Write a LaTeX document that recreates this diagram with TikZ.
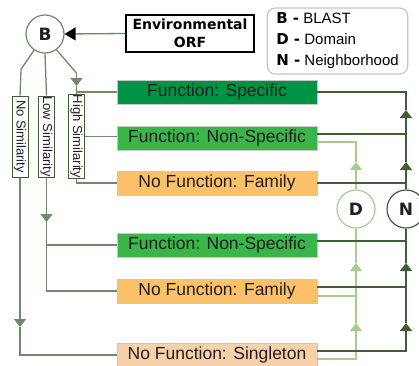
\documentclass[tikz,border=0pt]{standalone}
\usepackage{fontspec}
\setmainfont{Liberation Sans}
\newfontfamily\blackfont{DejaVu Sans}
\usetikzlibrary{arrows.meta, positioning, calc}

\definecolor{specgreen}{RGB}{0,146,69}
\definecolor{nsgreen}{RGB}{57,181,74}
\definecolor{famorange}{RGB}{250,193,104}
\definecolor{singlepeach}{RGB}{248,208,170}
\definecolor{blastline}{RGB}{112,137,104}
\definecolor{nbhline}{RGB}{62,94,52}
\definecolor{domline}{RGB}{165,205,140}
\definecolor{boxgray}{RGB}{200,200,200}
\definecolor{keygray}{RGB}{195,198,205}
\definecolor{txtdark}{RGB}{35,31,32}

\begin{document}
\begin{tikzpicture}[x=1pt, y=-1pt,
    cat/.style={rectangle, draw=boxgray, line width=1pt, outer sep=0pt, minimum width=200pt, minimum height=24pt, inner sep=0pt, text height=12.5pt, text depth=3.5pt, text=txtdark, font=\fontsize{17.5}{20}\selectfont},
    simbox/.style={rectangle, draw=nbhline, fill=white, line width=1pt, minimum width=81pt, minimum height=16pt, inner sep=0pt, rotate=-90, text=txtdark, font=\fontsize{13}{14}\selectfont},
    tool/.style={circle, draw, fill=white, line width=1.2pt, minimum size=38pt, inner sep=0pt, text=txtdark, font=\blackfont\bfseries\fontsize{17}{18}\selectfont},
    bline/.style={blastline, line width=1.3pt},
    nline/.style={nbhline, line width=1.3pt},
    dline/.style={domline, line width=1.3pt},
    flow/.style={-{Triangle[length=8pt, width=12pt]}}
]
\useasboundingbox (0,0) rectangle (419,365);
\fill[white] (0,0) rectangle (419,365);
\clip (0,0) rectangle (419,365);

% Nodes
\node[tool, draw=blastline] (blast) at (45,34) {B};
\node[rectangle, draw=black, fill=white, line width=1.5pt, minimum width=128pt, minimum height=37pt, inner sep=0pt, align=center, font=\blackfont\bfseries\fontsize{14}{18}\selectfont] (orf) at (190,33.5) {Environmental\\ORF};
\node[rectangle, draw=keygray, line width=1.2pt, rounded corners=8pt, minimum height=66pt, inner xsep=9pt, align=left, font=\fontsize{15}{21}\selectfont] (key) at (337.5,41)
    {{\blackfont\bfseries B -} BLAST\\{\blackfont\bfseries D -} Domain\\{\blackfont\bfseries N -} Neighborhood};

\node[cat, fill=specgreen] (spec) at (217,92) {Function: Specific};
\node[cat, fill=nsgreen, below=22pt of spec] (ns1) {Function: Non-Specific};
\node[cat, fill=famorange, below=21pt of ns1] (fam1) {No Function: Family};
\node[cat, fill=nsgreen, below=38pt of fam1] (ns2) {Function: Non-Specific};
\node[cat, fill=famorange, below=22pt of ns2] (fam2) {No Function: Family};
\node[cat, fill=singlepeach, below=40pt of fam2] (single) {No Function: Singleton};

\node[simbox] (nosim) at (20,136.5) {No Similarity};
\node[simbox] (lowsim) at (46.5,136.5) {Low Similarity};
\node[simbox] (highsim) at (76.5,136.5) {High Similarity};

\node[tool, draw=domline] (dom) at (356,209) {D};
\node[tool, draw=nbhline] (nbh) at (406,209) {N};

\coordinate (hiknee) at (76.5,73);
\coordinate (hitip) at (76.5,86);
\coordinate (lowtip) at (46.5,222);
\coordinate (notip) at (20,327);
\coordinate (dA) at (356,323);
\coordinate (dB) at (356,263);
\coordinate (dC) at (356,162);
\coordinate (nA) at (406,323);
\coordinate (nB) at (406,263);
\coordinate (nC) at (406,162);
\coordinate (nD) at (406,110);
\coordinate (f2d) at ($(fam2.east)+(0,5)$);
\coordinate (f2n) at ($(fam2.east)+(0,-4)$);
\coordinate (s2n) at ($(ns2.east)+(0,-4)$);
\coordinate (s1n) at ($(ns1.east)+(0,-4)$);

% Connections
\draw[bline, -{Triangle[length=11pt, width=13pt, color=black]}] (orf.west) -- (blast.east);
\draw[bline] (blast.236) -- ++(-13,19) -- (nosim.west);
\draw[bline] (blast.south) -- (lowsim.west);
\draw[bline] (blast.306) -- (hiknee);
\draw[bline, flow] (hiknee) -- (hitip);
\draw[bline] (hitip) -- (highsim.west);
\draw[bline] (highsim.west |- spec.west) -- (spec.west);
\draw[bline] (highsim.north) -- (highsim.north -| ns1.west);
\draw[bline] (highsim.east) |- (fam1.west);
\draw[bline, flow] (lowsim.east) -- (lowtip);
\draw[bline] (lowtip) |- (fam2.west);
\draw[bline] (lowtip |- ns2.west) -- (ns2.west);
\draw[bline, flow] (nosim.east) -- (notip);
\draw[bline] (notip) |- (single.west);

\draw[dline, flow] ($(single.east)+(0,4)$) -| (dA);
\draw[dline, flow] (dA) -- (dB);
\draw[dline] (dB) -- (dom.south);
\draw[dline] (f2d) -- (f2d -| dom);
\draw[dline, flow] (dom.north) -- (dC);
\draw[dline] (dC) |- ($(ns1.east)+(0,4)$);

\draw[nline, flow] ($(single.east)+(0,-4)$) -| (nA);
\draw[nline, flow] (nA) -- (nB);
\draw[nline] (nB) -- (nbh.south);
\draw[nline] (f2n) -- (f2n -| nbh);
\draw[nline] (s2n) -- (s2n -| nbh);
\draw[nline, flow] (nbh.north) -- (nC);
\draw[nline, flow] (nC) -- (nD);
\draw[nline] (nD) |- (spec.east);
\draw[nline] (fam1.east) -- (fam1.east -| nbh);
\draw[nline] (s1n) -- (s1n -| nbh);

\end{tikzpicture}
\end{document}
